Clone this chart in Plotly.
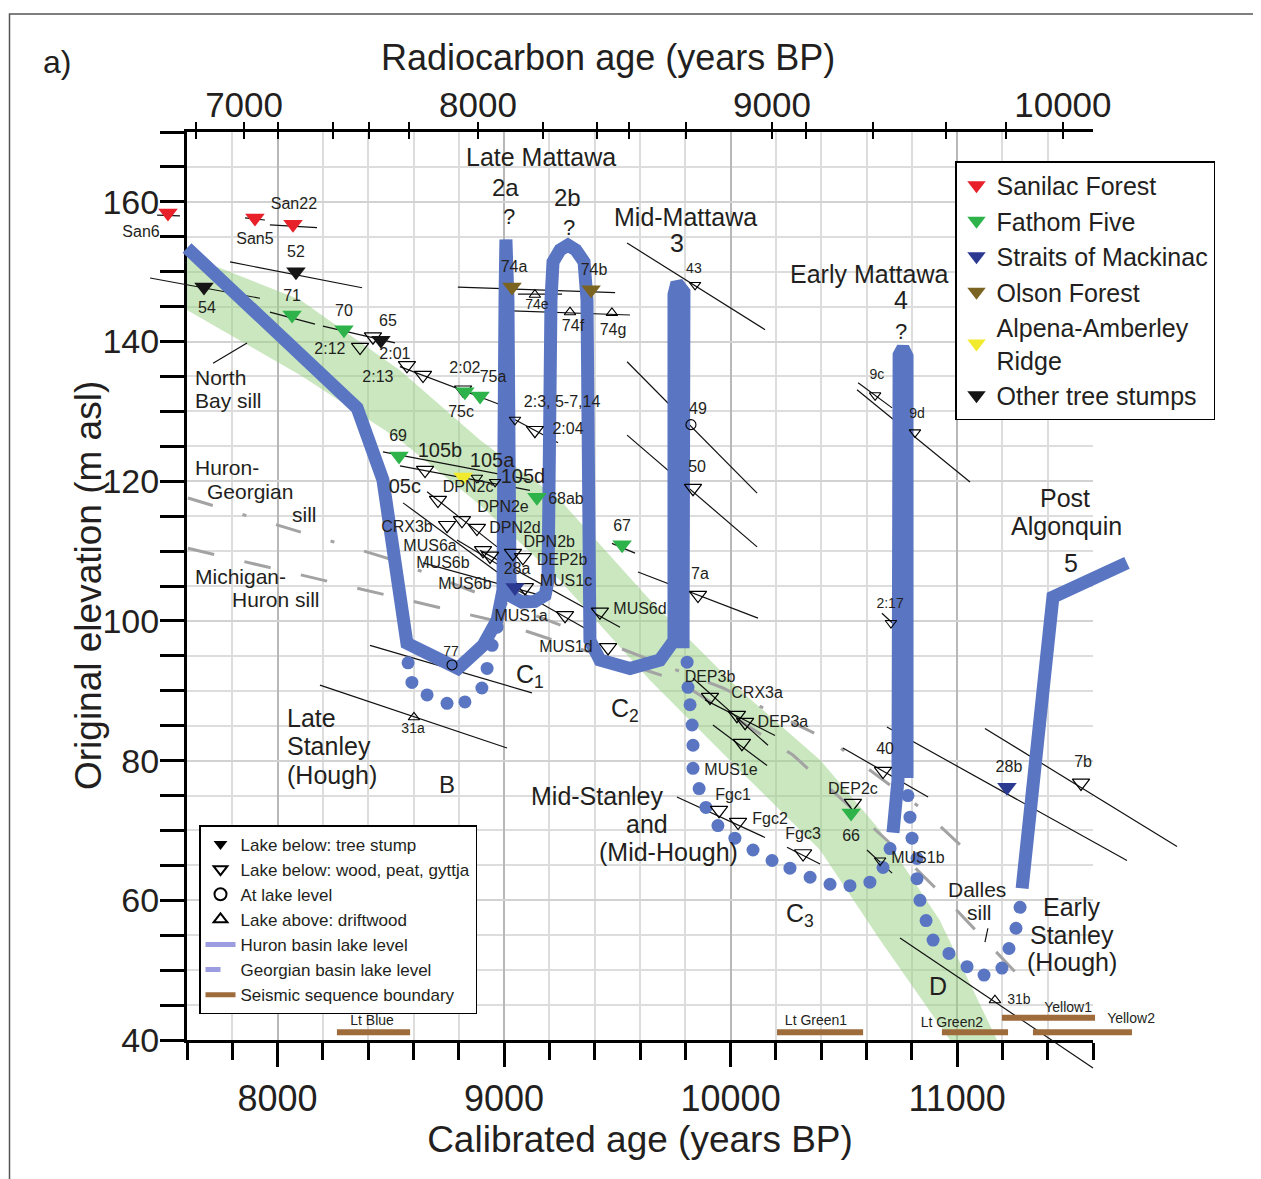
import plotly.graph_objects as go

# ======================= DATA (calibrated age BP, original elevation m asl) =======================
# bottom axis ticks (calibrated years BP)
cal_major_ticks = [8000, 9000, 10000, 11000]
cal_major_text = ["8000", "9000", "10000", "11000"]
cal_minor_ticks = [7600, 7800, 8000, 8200, 8400, 8600, 8800, 9000, 9200, 9400, 9600, 9800,
                   10000, 10200, 10400, 10600, 10800, 11000, 11200, 11400, 11600]
elev_major_ticks = [40, 60, 80, 100, 120, 140, 160]
elev_minor_ticks = list(range(40, 171, 5))

# top axis: radiocarbon ages (every 200 14C yr) placed at their calibrated ages
rc_tick_cal = [7640, 7852, 8002, 8245, 8404, 8580, 8885, 9172, 9410, 9551,
               9803, 10183, 10333, 10629, 10951, 11216, 11467]
rc_tick_text = ["", "7000", "", "", "", "", "8000", "", "", "", "", "9000", "", "", "", "", "10000"]

# tree stumps (filled symbols) by site
sanilac_age, sanilac_elev = [7516, 7900, 8068], [158.4, 157.7, 156.8]
fathom_age = [8064, 8293, 8827, 8894, 8536, 9145, 9521, 10532]
fathom_elev = [143.8, 141.7, 132.8, 132.2, 123.6, 117.7, 110.9, 72.5]
straits_age, straits_elev = [9048, 11220], [104.8, 76.2]
olson_age, olson_elev = [9035, 9384], [147.8, 147.4]
alpena_age, alpena_elev = [8819], [120.6]
other_age, other_elev = [7675, 8081, 8456], [147.8, 150.0, 140.2]

# lake below: wood, peat, gyttja (open down triangles)
wood_age = [8364, 8421, 8571, 8642, 8819, 9136, 8651, 8708, 8748, 8814, 8880, 8907, 8938, 9039,
            9083, 9092, 9269, 9423, 9459, 9909, 10028, 10064, 10050, 9949, 10033, 10320, 10540,
            9856, 9834, 11547, 10673]
wood_elev = [139.2, 140.7, 136.6, 135.2, 133.1, 127.3, 121.6, 117.3, 113.7, 114.4, 113.3, 110.1,
             109.3, 109.7, 109.1, 104.8, 100.8, 101.3, 96.2, 89.1, 86.5, 85.5, 82.5, 72.9, 71.2,
             66.7, 73.9, 103.7, 119.0, 76.8, 78.5]
wood_small_age = [9843, 10638, 10814, 10708, 10660, 9048, 8880, 8960]
wood_small_elev = [148.1, 132.3, 127.0, 99.7, 65.7, 128.8, 120.5, 119.9]
# at lake level (circles) and lake above: driftwood (up triangles)
level_age, level_elev = [9825, 8770], [128.1, 93.7]
drift_age, drift_elev = [9136, 9291, 9476, 8602, 11167], [146.7, 144.2, 144.1, 86.2, 45.7]

# sample labels
label_text = ["San6", "San5", "San22", "54", "52", "65", "71", "70", "75c", "75a", "69", "68ab", "67",
              "66", "28a", "28b", "2:12", "2:01", "2:13", "2:02", "2:3, 5-7,14", "2:04", "DPN2c",
              "DPN2e", "CRX3b", "DPN2d", "DPN2b", "MUS6a", "MUS6b", "MUS6b", "DEP2b", "MUS1c",
              "MUS1a", "MUS6d", "MUS1d", "DEP3b", "CRX3a", "DEP3a", "MUS1e", "Fgc1", "Fgc2", "Fgc3",
              "DEP2c", "MUS1b", "74f", "74g", "74a", "74b", "49", "50", "7a", "7b", "40"]
label_age = [7397, 7900, 8072, 7688, 8081, 8487, 8064, 8293, 8810, 8951, 8532, 9273, 9521,
             10532, 9057, 11229, 8231, 8518, 8443, 8827, 9256, 9282, 8841,
             8995, 8571, 9048, 9199, 8673, 8730, 8827, 9256, 9273,
             9075, 9600, 9273, 9909, 10117, 10231, 10002, 10011, 10174, 10320,
             10540, 10827, 9304, 9481, 9044, 9397, 9856, 9852, 9865, 11556, 10682]
label_elev = [155.6, 154.6, 159.6, 144.7, 152.7, 142.8, 146.4, 144.2, 129.8, 134.8, 126.3, 117.3, 113.4,
              69.0, 107.3, 78.9, 138.8, 138.1, 134.8, 136.1, 131.2, 127.3, 119.0,
              116.2, 113.3, 113.2, 111.2, 110.6, 108.1, 105.1, 108.6, 105.6,
              100.5, 101.5, 96.1, 91.8, 89.5, 85.4, 78.5, 75.0, 71.5, 69.3,
              75.8, 65.9, 142.1, 141.5, 150.5, 150.1, 130.2, 121.9, 106.6, 79.6, 81.5]
big_label_text = ["105b", "105a", "105d", "05c"]
big_label_age = [8717, 8947, 9083, 8562]
big_label_elev = [124.2, 122.8, 120.5, 119.0]
small_label_text = ["43", "74e", "9c", "9d", "2:17", "31a", "31b", "77"]
small_label_age = [9838, 9145, 10646, 10823, 10704, 8598, 11273, 8766]
small_label_elev = [150.3, 145.2, 135.2, 129.5, 102.4, 84.4, 45.7, 95.5]

# age ranges / elevation-correction lines (age0, elev0, age1, elev1)
age_ranges = [
    (7468, 158.1, 7569, 158.0), (7856, 157.7, 7944, 157.4), (7966, 156.7, 8174, 156.3),
    (7790, 151.4, 8373, 147.7), (7437, 149.1, 7922, 146.2), (7966, 144.2, 8165, 142.5),
    (8200, 142.2, 8518, 139.8), (8540, 136.4, 9013, 130.6), (8796, 147.8, 9490, 147.0),
    (9061, 146.8, 9256, 146.8), (9035, 144.4, 9556, 143.8), (9543, 154.1, 10152, 141.7),
    (9543, 137.1, 10117, 118.3), (9543, 126.6, 10117, 110.6), (9591, 107.0, 10121, 100.4),
    (9476, 111.1, 9578, 109.7), (10563, 134.1, 10713, 130.5), (10558, 133.1, 11057, 119.9),
    (10668, 101.1, 10748, 98.7), (10690, 84.8, 11750, 65.7), (11123, 84.6, 11971, 67.7),
    (10496, 81.8, 10872, 74.8), (10602, 67.2, 10713, 63.9), (10748, 54.6, 11600, 36.0),
    (9763, 74.8, 10152, 69.0), (10249, 67.6, 10395, 65.2), (9834, 91.8, 10165, 82.2),
    (9922, 85.1, 10161, 79.3), (9887, 88.7, 10196, 83.6), (8187, 90.8, 9013, 81.8),
    (8408, 96.5, 9123, 89.7), (8465, 124.2, 9114, 120.2), (8540, 122.2, 9114, 118.7),
    (8660, 118.5, 8969, 110.6), (8554, 116.9, 8969, 107.0), (8792, 111.6, 9039, 106.8),
    (8642, 108.3, 9203, 103.3), (8894, 110.1, 9512, 99.1), (9039, 104.8, 9392, 98.3),
    (9026, 129.2, 9238, 125.5),
    (7715, 136.9, 7865, 139.8), (11136, 56.0, 11123, 54.0),
]

# lake-level curves
late_path_age = [7600, 8351, 8465, 8571, 8796, 8907, 8969, 8995, 9004, 9008, 9017, 9026, 9039,
                 9079, 9136, 9181, 9194, 9207, 9216, 9247, 9282, 9317, 9353, 9366, 9379, 9423,
                 9556, 9688, 9732, 9750, 9750, 9763, 9794, 9790]
late_path_elev = [153.4, 130.5, 120.2, 96.8, 93.2, 96.5, 100.1, 104.4, 146.0, 154.6, 146.0, 105.8,
                  103.4, 102.7, 102.8, 103.7, 105.8, 146.0, 151.4, 153.1, 153.8, 153.1, 151.4,
                  146.0, 97.2, 94.4, 93.2, 94.4, 96.1, 97.2, 146.7, 148.4, 147.1, 96.1]
early_path_age = [10717, 10739, 10744, 10761, 10779, 10779]
early_path_elev = [69.7, 77.2, 138.1, 139.1, 137.9, 77.5]
post_path_age = [11287, 11423, 11750]
post_path_elev = [61.7, 103.4, 108.3]
lowstand_age = [8576, 8593, 8660, 8748, 8827, 8902, 8925, 8947, 8969,
                9808, 9812, 9821, 9830, 9834, 9834, 9861, 9891, 9944, 10019, 10099, 10183, 10262,
                10351, 10439, 10527, 10615, 10673, 10704,
                10783, 10792, 10801, 10823, 10823, 10836, 10863, 10894, 10964, 11044, 11119,
                11198, 11229, 11260, 11278]
lowstand_elev = [94.0, 91.2, 89.4, 88.2, 88.4, 90.4, 93.2, 96.5, 99.1,
                 94.1, 90.5, 88.0, 85.1, 82.2, 78.9, 76.0, 73.3, 70.7, 68.9, 67.2, 65.7, 64.6,
                 63.3, 62.3, 62.1, 62.6, 64.7, 67.4,
                 75.0, 71.9, 68.9, 66.0, 63.1, 60.0, 57.1, 54.3, 52.4, 50.5, 49.3,
                 50.3, 53.1, 56.0, 59.0]

# sills (grey dashed)
hg_sill_age = [7604, 8483, 9966, 10452, 10836, 11088]
hg_sill_elev = [117.6, 109.0, 90.4, 82.6, 73.3, 65.7]
mh_sill_age = [7604, 8951, 9260, 9763, 10275, 10580, 10690, 10916, 11176, 11278]
mh_sill_elev = [110.4, 100.1, 96.8, 91.5, 80.8, 71.9, 68.6, 61.4, 52.4, 49.0]

# green band
band_age = [7600, 8099, 8540, 8894, 9247, 9644, 10041, 10395, 10660, 10924, 11176,
            10969, 10660, 10395, 10041, 9644, 9247, 8894, 8540, 8099, 7600]
band_elev = [152.4, 146.0, 135.9, 125.9, 117.3, 103.0, 90.1, 80.1, 70.0, 57.1, 40.0,
             40.0, 54.3, 67.2, 78.6, 91.5, 105.8, 116.6, 125.9, 135.2, 144.5]

# seismic sequence boundaries (age0, age1, elev)
seismic = [(8262, 8585, 41.1), (10205, 10585, 41.1), (10933, 11225, 41.1),
           (11198, 11609, 43.2), (11335, 11772, 41.1)]
seismic_text = ["Lt Blue", "Lt Green1", "Lt Green2", "Yellow1", "Yellow2"]
seismic_label_age = [8417, 10377, 10977, 11490, 11768]
seismic_label_elev = [42.7, 42.7, 42.4, 44.5, 42.9]

# region labels: (text, age, elev, size, anchor)
region_labels = [
    ("Late Mattawa", 9163, 166.4, 25, "center"), ("2a", 9008, 162.0, 24, "center"),
    ("?", 9022, 157.9, 22, "center"), ("2b", 9278, 160.6, 24, "center"),
    ("?", 9287, 156.3, 22, "center"), ("Mid-Mattawa", 9799, 157.9, 25, "center"),
    ("3", 9763, 154.1, 25, "center"), ("Early Mattawa", 10611, 149.7, 25, "center"),
    ("4", 10752, 146.0, 25, "center"), ("?", 10752, 141.5, 22, "center"),
    ("North", 7626, 134.8, 21, "left"), ("Bay sill", 7626, 131.5, 21, "left"),
    ("Huron-", 7626, 121.9, 21, "left"), ("Georgian", 7679, 118.5, 21, "left"),
    ("sill", 8055, 115.2, 21, "left"), ("Michigan-", 7626, 106.3, 21, "left"),
    ("Huron sill", 7790, 103.0, 21, "left"),
    ("Late", 8033, 86.1, 25, "left"), ("Stanley", 8033, 82.1, 25, "left"),
    ("(Hough)", 8033, 78.0, 25, "left"), ("B", 8748, 76.6, 24, "center"),
    ("C<sub>1</sub>", 9114, 92.1, 25, "center"), ("C<sub>2</sub>", 9534, 87.2, 25, "center"),
    ("C<sub>3</sub>", 10306, 57.9, 25, "center"), ("D", 10916, 47.8, 25, "center"),
    ("Mid-Stanley", 9410, 74.9, 25, "center"), ("and", 9631, 70.9, 25, "center"),
    ("(Mid-Hough)", 9724, 66.9, 25, "center"),
    ("Dalles", 11088, 61.6, 21, "center"), ("sill", 11101, 58.3, 21, "center"),
    ("Early", 11507, 59.1, 25, "center"), ("Stanley", 11507, 55.1, 25, "center"),
    ("(Hough)", 11507, 51.1, 25, "center"),
    ("Post", 11476, 117.6, 25, "center"), ("Algonquin", 11485, 113.6, 25, "center"),
    ("5", 11503, 108.3, 25, "center"),
]

# ======================= LAYOUT GEOMETRY =======================
OFF = 8                                         # page offset of the figure div (body margin)
W, H = 1261 - OFF, 1179 - OFF
PL, PR, PT, PB = 140, 1200, 132, 1075          # drawing area (page px)
AL, AR, AT, AB = 187, 1093, 132, 1040          # visible axes box (page px)
XR, YR = [7600, 11600], [40, 170]
xs = (XR[1] - XR[0]) / (AR - AL)
ys = (YR[1] - YR[0]) / (AB - AT)
xdom = [(AL - PL) / (PR - PL), (AR - PL) / (PR - PL)]
ydom = [(PB - AB) / (PB - PT), 1.0]
x3r = [XR[0] - (AL - PL) * xs, XR[1] + (PR - AR) * xs]
y3r = [YR[0] - (PB - AB) * ys, YR[1]]
def px(x):
    return (x - PL) / (PR - PL)
def py(y):
    return (PB - y) / (PB - PT)

rc_lab_vals = [v for v, t in zip(rc_tick_cal, rc_tick_text) if t]
rc_lab_text = [t for t in rc_tick_text if t]
rc_unlab_vals = [v for v, t in zip(rc_tick_cal, rc_tick_text) if not t]

FONT = "Arial, 'Liberation Sans', Helvetica, sans-serif"
INK = "#231f20"
BLUE = "#5a76c3"
BROWN = "#9e6b3b"
GREY = "#a3a3a3"
K3 = dict(xaxis="x3", yaxis="y3", hoverinfo="skip")

def segs(items):
    xx, yy = [], []
    for a0, e0, a1, e1 in items:
        xx += [a0, a1, None]
        yy += [e0, e1, None]
    return xx, yy

fig = go.Figure()

# green band (main axes)
fig.add_trace(go.Scatter(x=band_age, y=band_elev, fill="toself", fillcolor="rgba(150,208,128,0.5)",
                         mode="lines", line=dict(width=0), showlegend=False, hoverinfo="skip"))
# anchors for the top (radiocarbon) axes
for xa in ("x2", "x4"):
    fig.add_trace(go.Scatter(x=[None], y=[None], xaxis=xa, yaxis="y", mode="markers",
                             showlegend=False, hoverinfo="skip"))

# sills
fig.add_trace(go.Scatter(x=hg_sill_age, y=hg_sill_elev, mode="lines", showlegend=False,
                         line=dict(color=GREY, width=3, dash="26px,31px,4px,31px"), **K3))
fig.add_trace(go.Scatter(x=mh_sill_age, y=mh_sill_elev, mode="lines", showlegend=False,
                         line=dict(color=GREY, width=3, dash="27px,31px"), **K3))

# age-range lines
ax_, ay_ = segs(age_ranges)
fig.add_trace(go.Scatter(x=ax_, y=ay_, mode="lines", showlegend=False,
                         line=dict(color="#111111", width=1.2), **K3))

# seismic boundaries
sx, sy = [], []
for a0, a1, e in seismic:
    sx += [a0, a1, None]
    sy += [e, e, None]
fig.add_trace(go.Scatter(x=sx, y=sy, mode="lines", name="Seismic sequence boundary",
                         legend="legend2", legendrank=7,
                         line=dict(color=BROWN, width=6), **K3))

# lake-level curves
for ax0, ay0 in [(late_path_age, late_path_elev), (early_path_age, early_path_elev),
                 (post_path_age, post_path_elev)]:
    fig.add_trace(go.Scatter(x=ax0, y=ay0, mode="lines", showlegend=False,
                             line=dict(color=BLUE, width=13), **K3))
fig.add_trace(go.Scatter(x=lowstand_age, y=lowstand_elev, mode="markers", showlegend=False,
                         marker=dict(color=BLUE, size=13), cliponaxis=False, **K3))

# legend-only entries
fig.add_trace(go.Scatter(x=[None], y=[None], mode="markers", name="Lake below: tree stump",
                         legend="legend2", legendrank=1,
                         marker=dict(symbol="triangle-down", color="black", size=10), **K3))
fig.add_trace(go.Scatter(x=[None], y=[None], mode="lines", name="Huron basin lake level",
                         legend="legend2", legendrank=5,
                         line=dict(color="#9c9ce0", width=4), **K3))
fig.add_trace(go.Scatter(x=[None], y=[None], mode="lines", name="Georgian basin lake level",
                         legend="legend2", legendrank=6,
                         line=dict(color="#9c9ce0", width=4, dash="dash"), **K3))

# open symbols
fig.add_trace(go.Scatter(x=wood_age, y=wood_elev, mode="markers", name="Lake below: wood, peat, gyttja",
                         legend="legend2", legendrank=2, cliponaxis=False,
                         marker=dict(symbol="triangle-down-open", color="black", size=15,
                                     line=dict(width=1.2)), **K3))
fig.add_trace(go.Scatter(x=wood_small_age, y=wood_small_elev, mode="markers", showlegend=False,
                         cliponaxis=False,
                         marker=dict(symbol="triangle-down-open", color="black", size=10,
                                     line=dict(width=1.1)), **K3))
fig.add_trace(go.Scatter(x=level_age, y=level_elev, mode="markers", name="At lake level",
                         legend="legend2", legendrank=3, cliponaxis=False,
                         marker=dict(symbol="circle-open", color="black", size=10,
                                     line=dict(width=1.1)), **K3))
fig.add_trace(go.Scatter(x=drift_age, y=drift_elev, mode="markers", name="Lake above: driftwood",
                         legend="legend2", legendrank=4, cliponaxis=False,
                         marker=dict(symbol="triangle-up-open", color="black", size=10,
                                     line=dict(width=1.1)), **K3))

# filled symbols (tree stumps by site)
groups = [
    ("Sanilac Forest", sanilac_age, sanilac_elev, "#e8202a"),
    ("Fathom Five", fathom_age, fathom_elev, "#2eb34a"),
    ("Straits of Mackinac", straits_age, straits_elev, "#2b3990"),
    ("Olson Forest", olson_age, olson_elev, "#7b6421"),
    ("Alpena-Amberley<br>Ridge", alpena_age, alpena_elev, "#f2ea2c"),
    ("Other tree stumps", other_age, other_elev, "#151515"),
]
for i, (nm, gx, gy, col) in enumerate(groups):
    fig.add_trace(go.Scatter(x=gx, y=gy, mode="markers", name=nm, legend="legend", legendrank=i + 1,
                             cliponaxis=False,
                             marker=dict(symbol="triangle-down", color=col, size=17), **K3))

# labels
for tx, txa, txe, fs in [(label_text, label_age, label_elev, 16),
                         (big_label_text, big_label_age, big_label_elev, 20),
                         (small_label_text, small_label_age, small_label_elev, 14),
                         (seismic_text, seismic_label_age, seismic_label_elev, 14)]:
    fig.add_trace(go.Scatter(x=txa, y=txe, text=tx, mode="text", showlegend=False, cliponaxis=False,
                             textfont=dict(size=fs, color=INK, family=FONT), **K3))

annotations = []
for t, a, e, s, anc in region_labels:
    annotations.append(dict(text=t, x=a, y=e, xref="x3", yref="y3", showarrow=False,
                            xanchor=anc, yanchor="middle", font=dict(size=s, color=INK)))
annotations.append(dict(text="Radiocarbon age (years BP)", x=px(608), y=py(57), xref="paper",
                        yref="paper", showarrow=False, xanchor="center", yanchor="middle",
                        font=dict(size=36, color=INK)))
annotations.append(dict(text="Original elevation (m asl)", x=px(88), y=py(586), xref="paper",
                        yref="paper", showarrow=False, xanchor="center", yanchor="middle",
                        textangle=-90, font=dict(size=37, color=INK)))
annotations.append(dict(text="a)", x=px(57), y=py(62), xref="paper", yref="paper", showarrow=False,
                        xanchor="center", yanchor="middle", font=dict(size=32, color=INK)))

fig.update_layout(
    width=W, height=H, autosize=False,
    margin=dict(l=PL - OFF, r=W - (PR - OFF), t=PT - OFF, b=H - (PB - OFF), pad=0),
    paper_bgcolor="white", plot_bgcolor="rgba(0,0,0,0)",
    font=dict(family=FONT, color=INK),
    annotations=annotations,
    shapes=[dict(type="rect", xref="paper", yref="paper", x0=px(9.5), x1=px(1275), y0=py(1195),
                 y1=py(14), line=dict(color="#555555", width=1.5))],
    legend=dict(x=px(955), y=py(161), xanchor="left", yanchor="top", bgcolor="white",
                bordercolor="black", borderwidth=1.5, font=dict(size=25, color=INK),
                itemsizing="trace"),
    legend2=dict(x=px(199), y=py(825), xanchor="left", yanchor="top", bgcolor="white",
                 bordercolor="black", borderwidth=1.5, font=dict(size=17, color=INK),
                 itemsizing="constant"),
    xaxis=dict(domain=xdom, range=XR, anchor="y", showline=True, linecolor="black", linewidth=3,
               ticks="outside", tickmode="array", tickvals=cal_major_ticks, ticktext=cal_major_text,
               ticklen=24, tickwidth=3, tickcolor="black",
               tickfont=dict(size=36), ticklabelstandoff=1,
               showgrid=True, gridcolor="#b8b8b8", gridwidth=1.5, zeroline=False,
               minor=dict(tickvals=cal_minor_ticks, ticks="outside", ticklen=17, tickwidth=3,
                          tickcolor="black", showgrid=True, gridcolor="#dddddd", gridwidth=1.5),
               title=dict(text="Calibrated age (years BP)", font=dict(size=37), standoff=4),
               automargin=False, fixedrange=True),
    yaxis=dict(domain=ydom, range=YR, anchor="x", showline=True, linecolor="black", linewidth=3,
               ticks="outside", tickvals=elev_major_ticks, ticklen=24, tickwidth=3, tickcolor="black",
               tickfont=dict(size=34), ticklabelstandoff=-6,
               showgrid=True, gridcolor="#d2d2d2", gridwidth=1.5, zeroline=False,
               minor=dict(tickvals=elev_minor_ticks, ticks="outside", ticklen=24, tickwidth=3,
                          tickcolor="black", showgrid=True, gridcolor="#dddddd", gridwidth=1.5),
               automargin=False, fixedrange=True),
    xaxis2=dict(overlaying="x", side="top", anchor="y", range=XR, showline=True, linecolor="black",
                linewidth=3, tickmode="array", tickvals=rc_lab_vals, ticktext=rc_lab_text,
                ticks="outside", ticklen=7, tickwidth=2, tickcolor="black", tickfont=dict(size=35),
                ticklabelstandoff=-9,
                minor=dict(tickvals=rc_unlab_vals, ticks="outside", ticklen=7, tickwidth=2,
                           tickcolor="black", showgrid=False),
                showgrid=False, zeroline=False, automargin=False, fixedrange=True),
    xaxis4=dict(overlaying="x", side="top", anchor="y", range=XR, showline=False,
                tickmode="array", tickvals=rc_tick_cal, ticks="inside", ticklen=7, tickwidth=2,
                tickcolor="black", showticklabels=False, showgrid=False, zeroline=False,
                automargin=False, fixedrange=True),
    xaxis3=dict(domain=[0, 1], range=x3r, anchor="y3", visible=False, fixedrange=True),
    yaxis3=dict(domain=[0, 1], range=y3r, anchor="x3", visible=False, fixedrange=True),
)

fig.write_html("out.html")
